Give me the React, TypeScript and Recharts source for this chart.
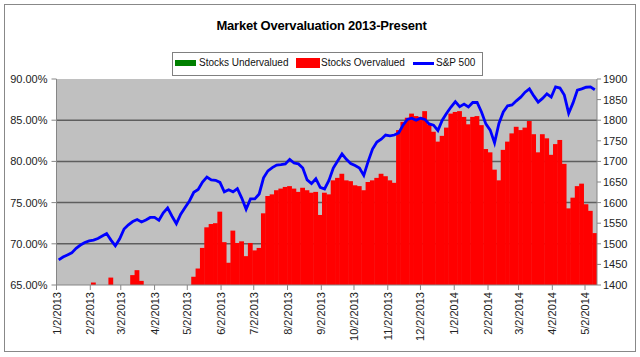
import { ComposedChart, Bar, Line, XAxis, YAxis, CartesianGrid } from 'recharts'

const FONT = '"Liberation Sans", Arial, sans-serif'

// samples every 4 calendar days, starting 1/2/2013
const START = Date.UTC(2013, 0, 2)
const DAY = 86400000
const STEP = 4

// % of stocks overvalued (null = under 65%, nothing drawn)
const overvalued: (number | null)[] = [
  null, null, null, null, null, null, null, null, 65.3, null,
  null, null, 65.9, null, null, null, null, 66.2, 66.8, 65.5,
  null, null, null, null, null, null, null, null, null, null,
  null, 66.0, 67.0, 69.5, 72.0, 72.4, 72.5, 73.9, 70.2, 67.7,
  71.6, 70.1, 70.3, 68.5, 70.1, 69.2, 69.5, 73.7, 75.8, 76.0,
  76.5, 76.7, 76.9, 77.0, 76.7, 76.3, 76.8, 76.5, 76.2, 76.3,
  73.5, 76.2, 76.0, 77.7, 78.0, 78.5, 77.7, 77.6, 77.1, 77.0,
  76.5, 77.5, 77.7, 78.0, 78.5, 78.2, 77.7, 77.4, 83.8, 84.8,
  85.3, 85.8, 85.5, 85.4, 86.1, 84.5, 83.6, 82.4, 83.1, 84.1,
  85.8, 86.0, 86.1, 85.4, 84.5, 85.4, 85.5, 84.4, 81.5, 81.1,
  79.0, 77.7, 81.4, 82.4, 83.4, 84.2, 83.8, 84.1, 84.9, 83.3,
  81.1, 83.3, 82.8, 80.8, 82.1, 82.6, 79.7, 74.3, 75.6, 77.0,
  77.3, 74.8, 74.0, 71.3,
]

const sp500: number[] = [
  1461, 1468, 1473, 1478, 1489, 1497, 1503, 1507, 1509, 1513,
  1519, 1525, 1509, 1495, 1512, 1536, 1546, 1554, 1559, 1553,
  1558, 1564, 1564, 1557, 1575, 1587, 1567, 1549, 1572, 1588,
  1604, 1625, 1632, 1650, 1662, 1655, 1654, 1649, 1626, 1631,
  1626, 1634, 1611, 1584, 1609, 1609, 1621, 1660, 1677, 1685,
  1691, 1692, 1694, 1705, 1696, 1694, 1684, 1655, 1646, 1658,
  1637, 1633, 1654, 1684, 1701, 1718, 1705, 1695, 1690, 1684,
  1666, 1700, 1730, 1747, 1754, 1764, 1762, 1764, 1769, 1788,
  1802, 1805, 1800, 1805, 1802, 1791, 1788, 1775, 1800, 1817,
  1832, 1845, 1833, 1839, 1832, 1843, 1843, 1820, 1791, 1776,
  1745, 1792, 1820, 1835, 1837, 1847, 1856, 1868, 1876, 1859,
  1844, 1853, 1864, 1856, 1881, 1878, 1861, 1817, 1842, 1873,
  1876, 1880, 1881, 1874,
]

const monthLabels = [
  '1/2/2013', '2/2/2013', '3/2/2013', '4/2/2013', '5/2/2013', '6/2/2013',
  '7/2/2013', '8/2/2013', '9/2/2013', '10/2/2013', '11/2/2013', '12/2/2013',
  '1/2/2014', '2/2/2014', '3/2/2014', '4/2/2014', '5/2/2014',
]
const pctTicks = [65, 70, 75, 80, 85, 90]
const gridValues = [70, 75, 80, 85]
const spxTicks = [1400, 1450, 1500, 1550, 1600, 1650, 1700, 1750, 1800, 1850, 1900]

const dayOf = (label: string) => {
  const [m, d, y] = label.split('/').map(Number)
  return Math.round((Date.UTC(y, m - 1, d) - START) / DAY)
}
const monthTicks = monthLabels.map(dayOf)
const labelByDay: Record<number, string> = {}
monthLabels.forEach((l, i) => { labelByDay[monthTicks[i]] = l })

const data = sp500.map((v, i) => ({ day: 2 + i * STEP, over: overvalued[i], spx: v }))

const DateTick = ({ x, y, payload }: any) => (
  <text
    x={x} y={y} transform={`rotate(-90, ${x}, ${y})`}
    textAnchor="end" dominantBaseline="central"
    fontSize={11} fontFamily={FONT} fill="#222"
  >
    {labelByDay[payload.value]}
  </text>
)

// bars drawn a touch wider so neighbours overlap and no seams show
const SolidBar = ({ x, y, width, height }: any) =>
  height > 0 ? <rect x={x - 0.4} y={y} width={width + 0.8} height={height} fill="#FF0000" /> : null

const axisTick = { fill: '#222', fontSize: 11, fontFamily: FONT }
const legendText = { position: 'absolute' as const, top: 57, fontSize: 10, color: '#111' }

export default function App() {
  return (
    <div style={{ position: 'fixed', left: 0, top: 0, width: 640, height: 357, background: '#fff', fontFamily: FONT }}>
      <div style={{ position: 'absolute', left: 4, top: 4, width: 630, height: 346, border: '1.5px solid #888' }} />

      <div style={{ position: 'absolute', left: 0, top: 18, width: 643, textAlign: 'center', fontSize: 13, fontWeight: 'bold', color: '#000', letterSpacing: -0.2 }}>
        Market Overvaluation 2013-Present
      </div>

      {/* legend */}
      <div style={{ position: 'absolute', left: 172, top: 52, width: 309, height: 22, border: '1px solid #808080', background: '#fff' }} />
      <div style={{ position: 'absolute', left: 175, top: 60, width: 21, height: 6, background: '#008000' }} />
      <div style={{ ...legendText, left: 199 }}>Stocks Undervalued</div>
      <div style={{ position: 'absolute', left: 296, top: 58, width: 24, height: 10, background: '#FF0000' }} />
      <div style={{ ...legendText, left: 321 }}>Stocks Overvalued</div>
      <div style={{ position: 'absolute', left: 413, top: 62, width: 21, height: 3, background: '#0000FF' }} />
      <div style={{ ...legendText, left: 436 }}>S&amp;P 500</div>

      <div style={{ position: 'absolute', left: 0, top: 0 }}>
        <ComposedChart
          width={640} height={357} data={data}
          margin={{ top: 79, right: 3, bottom: 12, left: 6.5 }}
          barCategoryGap={0} barGap={0}
        >
          <CartesianGrid
            yAxisId="pct" vertical={false} horizontalValues={gridValues}
            fill="#C0C0C0" stroke="#5e5e5e" strokeWidth={1.5}
          />
          <XAxis
            type="number" dataKey="day" domain={[0, 496]} ticks={monthTicks}
            interval={0} height={60} tickSize={5} tickMargin={2}
            axisLine={{ stroke: '#868686' }} tickLine={{ stroke: '#868686' }}
            tick={<DateTick />} allowDataOverflow
          />
          <YAxis
            yAxisId="pct" orientation="left" width={50} domain={[65, 90]} ticks={pctTicks}
            tickFormatter={(v: number) => v.toFixed(2) + '%'} tickSize={5} tickMargin={4}
            axisLine={{ stroke: '#868686' }} tickLine={{ stroke: '#868686' }} tick={axisTick}
            allowDataOverflow
          />
          <YAxis
            yAxisId="spx" orientation="right" width={40} domain={[1400, 1900]} ticks={spxTicks}
            tickSize={4} tickMargin={2}
            axisLine={{ stroke: '#868686' }} tickLine={{ stroke: '#868686' }} tick={axisTick}
            allowDataOverflow
          />
          <Bar yAxisId="pct" dataKey="over" fill="#FF0000" shape={<SolidBar />} isAnimationActive={false} />
          <Line yAxisId="spx" dataKey="spx" type="linear" stroke="#0000FF" strokeWidth={2.8} dot={false} isAnimationActive={false} />
        </ComposedChart>
      </div>
    </div>
  )
}
